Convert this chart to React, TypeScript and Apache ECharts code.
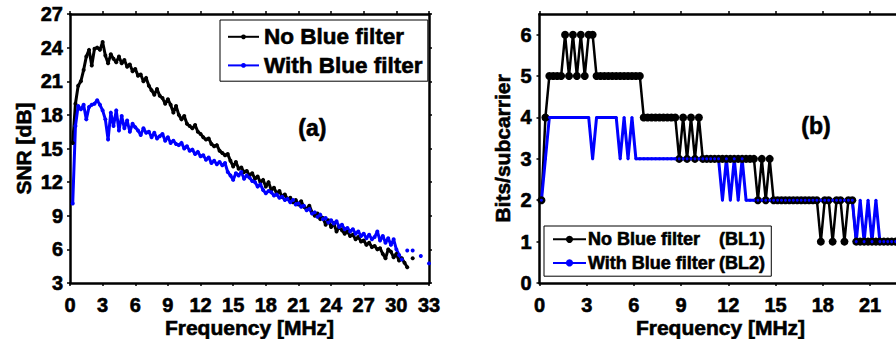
import { useEffect, useRef } from "react";
import * as echarts from "echarts";

const FONT = '"Liberation Sans", Arial, Helvetica, sans-serif';

// ---------- Panel (a): SNR vs frequency ----------
const STEP_A = 0.25; // MHz, first point at 0.25 MHz
const snrNoFilter = [
  15.5, 19.0, 20.6, 21.0, 22.0, 23.2, 23.8, 22.4, 23.9, 24.0, 23.8, 24.5,
  23.3, 22.6, 23.4, 23.0, 22.7, 23.2, 22.6, 22.9, 22.3, 22.5, 21.9, 22.1,
  21.5, 21.6, 21.0, 21.3, 20.6, 20.2, 19.8, 20.3, 19.7, 19.5, 19.0, 19.4,
  18.9, 18.2, 18.8, 18.0, 17.6, 17.9, 17.2, 17.0, 16.8, 17.1, 16.5, 16.3,
  16.0, 15.8, 15.9, 15.4, 15.2, 15.3, 14.8, 14.6, 14.4, 14.5, 13.9, 13.4,
  13.8, 13.2, 13.3, 12.9, 13.0, 12.6, 12.8, 12.3, 12.5, 12.0, 12.2, 11.6,
  12.0, 11.3, 11.5, 11.0, 11.2, 10.7, 10.9, 10.5, 10.6, 10.2, 10.4, 10.0,
  10.3, 9.8, 9.6, 9.9, 9.3, 9.0, 9.2, 8.7, 8.8, 8.2, 8.6, 8.0,
  8.3, 7.6, 8.0, 7.7, 7.4, 7.6, 7.2, 7.3, 6.9, 7.1, 6.7, 6.8,
  6.4, 6.6, 6.2, 6.3, 6.0, 6.1, 5.6, 5.2, 6.0, 5.8, 5.3, 5.6,
  5.0, 5.2, 4.8, 4.4, null, 5.2,
];
const snrWithFilter = [
  10.1, 17.0, 18.8, 18.5, 18.9, 17.6, 18.7, 18.9, 19.0, 19.3, 18.9, 18.4,
  17.6, 15.8, 18.2, 17.0, 18.4, 16.6, 17.9, 16.8, 17.5, 16.5, 17.2, 16.9,
  16.6, 16.2, 16.8, 16.4, 16.5, 16.0, 16.4, 15.9, 16.1, 16.3, 15.7, 16.0,
  15.5, 15.7, 15.4, 15.3, 15.5, 15.0, 15.2, 14.8, 14.9, 14.5, 14.7, 14.3,
  14.4, 14.0, 14.2, 13.7, 13.9, 13.6, 13.8, 13.5, 13.7, 12.9, 12.6, 12.2,
  12.8, 12.6, 12.9, 12.3, 12.6, 12.4, 12.1, 12.0, 11.6, 11.8, 11.3, 11.0,
  11.2, 11.1, 10.8, 10.9, 10.6, 10.7, 10.4, 10.5, 10.2, 10.4, 10.0, 10.1,
  9.8, 9.9, 9.5, 9.6, 9.2, 9.3, 8.9, 9.1, 8.7, 8.8, 8.4, 8.6,
  8.3, 8.5, 8.0, 8.2, 7.8, 7.9, 7.6, 7.8, 7.4, 7.6, 7.2, 7.4,
  7.0, 7.3, 6.9, 7.1, 7.6, 6.8, 7.2, 6.6, 7.0, 6.4, 6.9, 6.0,
  5.5, 5.1, null, 5.9, null, 5.9, null, null, 5.4, null, null, 4.75,
];

// ---------- Panel (b): bit loading ----------
const STEP_B = 0.25; // MHz
const OFFSET_B = 0.125; // MHz, first subcarrier
const bitsNoFilter = [
  2, 4, 5, 5, 5, 5, 6, 5, 6, 5, 6, 5, 6, 6,
  5, 5, 5, 5, 5, 5, 5, 5, 5, 5, 5, 5,
  4, 4, 4, 4, 4, 4, 4, 4, 4,
  3, 4, 3, 4, 3, 4,
  3, 3, 3, 3, 3, 3, 3, 3, 3, 3, 3, 3, 3, 3,
  2, 3, 2, 3,
  2, 2, 2, 2, 2, 2, 2, 2, 2, 2, 2, 2,
  1, 2, 2, 1, 2, 2, 1, 2, 2,
  1, 1, 1, 1, 1, 1, 1, 1, 1, 1, 1, 1,
];
const bitsWithFilter = [
  2, 3,
  4, 4, 4, 4, 4, 4, 4, 4, 4, 4, 4,
  3,
  4, 4, 4, 4, 4, 4,
  3, 4, 3, 4,
  3, 3, 3, 3, 3, 3, 3, 3, 3, 3, 3, 3, 3, 3, 3, 3, 3, 3, 3, 3, 3, 3,
  2, 3, 2, 3, 2, 3,
  2, 2, 2, 2, 2, 2, 2, 2, 2, 2, 2, 2, 2, 2, 2, 2, 2, 2, 2, 2, 2, 2, 2, 2, 2, 2, 2, 2,
  1, 2, 1, 2, 1, 2,
  1, 1, 1, 1, 1, 1,
];

const seriesNamesA = ["No Blue filter", "With Blue filter"];
const seriesNamesB = ["No Blue filter (BL1)", "With Blue filter (BL2)"];
const legendLabelsB = [
  ["No Blue filter", "(BL1)"],
  ["With Blue filter", "(BL2)"],
];

const xTicksB = [0, 3, 6, 9, 12, 15, 18, 21];
const yTicksB = [0, 1, 2, 3, 4, 5, 6];

const axisTitle = "Frequency [MHz]";
const yTitleA = "SNR [dB]";
const yTitleB = "Bits/subcarrier";

export default function App() {
  const ref = useRef<HTMLDivElement>(null);

  useEffect(() => {
    if (!ref.current) return;
    const chart = echarts.init(ref.current, undefined, { renderer: "svg" });

    const heavy = { textBorderColor: "#000", textBorderWidth: 0.6 };
    const labelStyle = {
      color: "#000",
      fontFamily: FONT,
      fontWeight: "bold" as const,
      fontSize: 20,
      ...heavy,
    };
    const nameStyle = {
      color: "#000",
      fontFamily: FONT,
      fontWeight: "bold" as const,
      fontSize: 21,
      ...heavy,
    };
    const line = { show: true, onZero: false, lineStyle: { color: "#000", width: 2.5 } };
    const tick = { show: true, length: 3, lineStyle: { color: "#000", width: 1.5 } };

    const dataA1 = snrNoFilter.map((v, i) => [(i + 1) * STEP_A, v]);
    const dataA2 = snrWithFilter.map((v, i) => [(i + 1) * STEP_A, v]);
    const dataB1 = bitsNoFilter.map((v, i) => [OFFSET_B + i * STEP_B, v]);
    const dataB2 = bitsWithFilter.map((v, i) => [OFFSET_B + i * STEP_B, v]);

    const option: any = {
      animation: false,
      backgroundColor: "#fff",
      grid: [
        { left: 70, right: 467, top: 14, bottom: 56, containLabel: false, outerBoundsMode: "none" },
        { left: 539.5, right: -5.5, top: 14, bottom: 56, containLabel: false, outerBoundsMode: "none" },
      ],
      xAxis: [
        {
          gridIndex: 0, type: "value", min: 0, max: 33, interval: 3, position: "bottom",
          axisLine: line, axisTick: tick, splitLine: { show: false },
          axisLabel: { ...labelStyle, margin: 12 },
          name: axisTitle, nameLocation: "middle", nameGap: 34, nameMoveOverlap: false,
          nameTextStyle: nameStyle,
        },
        {
          gridIndex: 0, type: "value", min: 0, max: 33, interval: 3, position: "top",
          axisLine: line, axisTick: tick, splitLine: { show: false }, axisLabel: { show: false },
        },
        {
          gridIndex: 1, type: "value", min: 0, max: 23, position: "bottom",
          axisLine: line, axisTick: { ...tick, customValues: xTicksB }, splitLine: { show: false },
          axisLabel: { ...labelStyle, margin: 12, customValues: xTicksB },
          name: axisTitle, nameLocation: "middle", nameGap: 34, nameMoveOverlap: false,
          nameTextStyle: nameStyle,
        },
        {
          gridIndex: 1, type: "value", min: 0, max: 23, position: "top",
          axisLine: line, axisTick: { ...tick, customValues: xTicksB }, splitLine: { show: false },
          axisLabel: { show: false },
        },
      ],
      yAxis: [
        {
          gridIndex: 0, type: "value", min: 3, max: 27, interval: 3, position: "left",
          axisLine: line, axisTick: tick, splitLine: { show: false },
          axisLabel: { ...labelStyle, margin: 7 },
          name: yTitleA, nameLocation: "middle", nameGap: 36, nameTextStyle: nameStyle,
        },
        {
          gridIndex: 0, type: "value", min: 3, max: 27, interval: 3, position: "right",
          axisLine: line, axisTick: tick, splitLine: { show: false }, axisLabel: { show: false },
        },
        {
          gridIndex: 1, type: "value", min: 0, max: 6.5, position: "left",
          axisLine: line, axisTick: { ...tick, customValues: yTicksB }, splitLine: { show: false },
          axisLabel: { ...labelStyle, margin: 8, customValues: yTicksB },
          name: yTitleB, nameLocation: "middle", nameGap: 27, nameTextStyle: nameStyle,
        },
      ],
      legend: [
        {
          data: seriesNamesA,
          orient: "vertical",
          left: 220,
          top: 20,
          padding: [5, 5, 4, 7],
          itemGap: 5,
          itemWidth: 31,
          itemHeight: 6,
          selectedMode: false,
          backgroundColor: "#fff",
          borderColor: "#000",
          borderWidth: 1,
          borderRadius: 0,
          textStyle: {
            color: "#000", fontFamily: FONT, fontWeight: "bold", fontSize: 22.5, ...heavy,
          },
        },
        {
          data: seriesNamesB,
          orient: "vertical",
          left: 544,
          top: 226,
          padding: [4, 6, 4, 8],
          itemGap: 5,
          itemWidth: 33,
          itemHeight: 9,
          selectedMode: false,
          backgroundColor: "#fff",
          borderColor: "#000",
          borderWidth: 1,
          borderRadius: 0,
          formatter: (name: string) => {
            const idx = seriesNamesB.indexOf(name);
            const [a, b] = legendLabelsB[idx];
            return `{n|${a}}{b|${b}}`;
          },
          textStyle: {
            color: "#000", fontFamily: FONT, fontWeight: "bold", fontSize: 18,
            padding: [0, 0, 0, -3],
            rich: {
              n: { color: "#000", fontFamily: FONT, fontWeight: "bold", fontSize: 18, width: 131, ...heavy },
              b: { color: "#000", fontFamily: FONT, fontWeight: "bold", fontSize: 18, ...heavy },
            },
          },
        },
      ],
      graphic: [
        {
          type: "text", left: 298, top: 116,
          style: {
            text: "(a)", fill: "#000", font: `bold 23px ${FONT}`,
            stroke: "#000", lineWidth: 0.6,
          },
        },
        {
          type: "text", left: 801, top: 114,
          style: {
            text: "(b)", fill: "#000", font: `bold 23px ${FONT}`,
            stroke: "#000", lineWidth: 0.6,
          },
        },
      ],
      series: [
        {
          type: "line", name: seriesNamesA[0], xAxisIndex: 0, yAxisIndex: 0, data: dataA1,
          symbol: "circle", symbolSize: 4, showSymbol: true, showAllSymbol: true, connectNulls: false,
          lineStyle: { color: "#000", width: 3 }, itemStyle: { color: "#000" },
        },
        {
          type: "line", name: seriesNamesA[1], xAxisIndex: 0, yAxisIndex: 0, data: dataA2,
          symbol: "circle", symbolSize: 4, showSymbol: true, showAllSymbol: true, connectNulls: false,
          lineStyle: { color: "#0000ff", width: 3 }, itemStyle: { color: "#0000ff" },
        },
        {
          type: "line", name: seriesNamesB[0], xAxisIndex: 2, yAxisIndex: 2, data: dataB1,
          symbol: "circle", symbolSize: 8, showSymbol: true, showAllSymbol: true,
          lineStyle: { color: "#000", width: 2.5 }, itemStyle: { color: "#000" },
        },
        {
          type: "line", name: seriesNamesB[1], xAxisIndex: 2, yAxisIndex: 2, data: dataB2,
          symbol: "circle", symbolSize: 3, showSymbol: true, showAllSymbol: true,
          lineStyle: { color: "#0000ff", width: 3 }, itemStyle: { color: "#0000ff" },
        },
      ],
    };

    chart.setOption(option);
    return () => chart.dispose();
  }, []);

  return (
    <div
      ref={ref}
      style={{ position: "fixed", left: 0, top: 0, width: 896, height: 339, background: "#fff" }}
    />
  );
}
